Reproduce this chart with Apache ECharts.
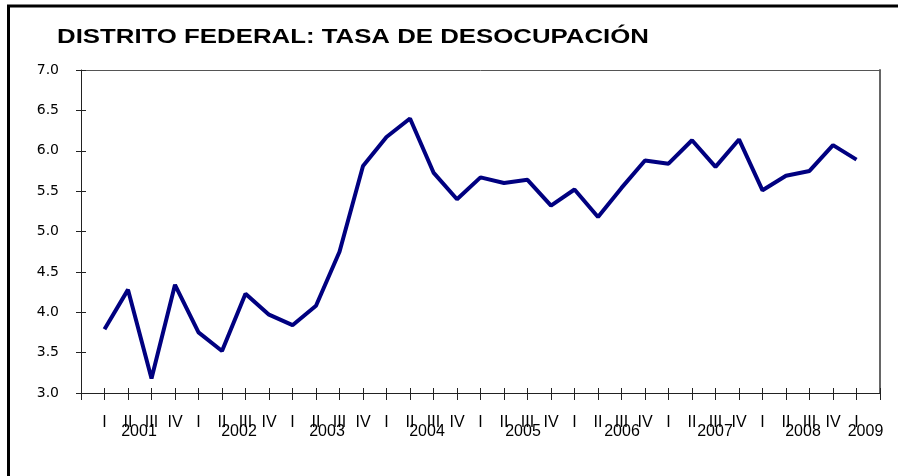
<!DOCTYPE html>
<html>
<head>
<meta charset="utf-8">
<script src="https://cdn.jsdelivr.net/npm/echarts@6/dist/echarts.min.js"></script>
<style>
html,body{margin:0;padding:0;background:#fff;}
#c{width:898px;height:476px;}
</style>
</head>
<body>
<div id="c"></div>
<script>
var title = 'DISTRITO FEDERAL: TASA DE DESOCUPACIÓN';
var quarters = ['I','II','III','IV','I','II','III','IV','I','II','III','IV','I','II','III','IV',
                'I','II','III','IV','I','II','III','IV','I','II','III','IV','I','II','III','IV','I'];
var years = ['2001','2002','2003','2004','2005','2006','2007','2008','2009'];
var rate = [3.79, 4.28, 3.18, 4.34, 3.75, 3.52, 4.23, 3.97, 3.84, 4.08, 4.75, 5.81, 6.17, 6.40,
            5.73, 5.40, 5.67, 5.60, 5.64, 5.32, 5.52, 5.18, 5.54, 5.88, 5.84, 6.13, 5.80, 6.14,
            5.51, 5.69, 5.75, 6.07, 5.89];
var yTicks = {min: 3, max: 7, step: 0.5};

// padded category axis (one empty slot on each side)
var cats = [''].concat(quarters).concat(['']);
var data = [null].concat(rate).concat([null]);
// year labels: placed on the 'II' slot of each year; last year on its only quarter
var yearCats = cats.map(function(){ return ''; });
var yi = 0;
for (var i = 0; i < quarters.length; i++) {
  if (quarters[i] === 'I') {
    var pos = (i + 1 < quarters.length) ? i + 1 : i;
    yearCats[pos + 1] = years[yi++];
  }
}
var yearShift = [11, 17, 11, 17, 19, 24, 23, 17, 9];
var rich = {};
years.forEach(function(y, k){
  rich['y' + k] = {fontSize: 16, fontFamily: 'Liberation Sans', color: '#000', padding: [0, 0, 0, 2 * yearShift[k]]};
});

var chart = echarts.init(document.getElementById('c'), null, {renderer: 'canvas'});
var axisBase = {
  type: 'category', data: cats, boundaryGap: false,
  axisLabel: {show: false}, splitLine: {show: false}
};
var yBase = {
  type: 'value', min: yTicks.min, max: yTicks.max, interval: yTicks.step,
  splitLine: {show: false}, axisLabel: {show: false}
};
chart.setOption({
  animation: false,
  backgroundColor: '#fff',
  grid: {left: 81, top: 70, width: 799, height: 323, containLabel: false},
  graphic: [
    {type: 'rect', shape: {x: 8.5, y: 6, width: 1000, height: 1000},
     style: {fill: 'none', stroke: '#000', lineWidth: 3}, silent: true},
    {type: 'text', x: 57, y: 37.5, scaleX: 1.29,
     style: {text: title, font: 'bold 20px "Liberation Sans"', fill: '#000',
             verticalAlign: 'middle', textVerticalAlign: 'middle'}}
  ],
  xAxis: [
    Object.assign({}, axisBase, {
      position: 'bottom',
      axisLine: {show: true, lineStyle: {color: '#222', width: 1}},
      axisTick: {show: true, interval: 0, length: 7, inside: false, lineStyle: {color: '#222'}},
      axisLabel: {show: true, interval: 0, margin: 22, fontSize: 16, fontFamily: 'Liberation Sans', color: '#000'}
    }),
    Object.assign({}, axisBase, {
      position: 'bottom',
      axisLine: {show: false},
      axisTick: {show: true, interval: 0, length: 5, inside: true, lineStyle: {color: '#222'}}
    }),
    Object.assign({}, axisBase, {
      position: 'bottom', data: yearCats,
      axisLine: {show: false}, axisTick: {show: false},
      axisLabel: {show: true, interval: 0, margin: 31, fontSize: 16, fontFamily: 'Liberation Sans', color: '#000',
        formatter: function(v){ if (!v) return ''; return '{y' + years.indexOf(v) + '|' + v + '}'; },
        rich: rich}
    }),
    Object.assign({}, axisBase, {
      position: 'top',
      axisLine: {show: true, lineStyle: {color: '#555', width: 1}},
      axisTick: {show: false}
    })
  ],
  yAxis: [
    Object.assign({}, yBase, {
      position: 'left',
      axisLine: {show: true, lineStyle: {color: '#222', width: 1}},
      axisTick: {show: true, length: 5, inside: false, lineStyle: {color: '#222'}},
      axisLabel: {show: true, margin: 22, fontSize: 14, fontFamily: 'DejaVu Sans', color: '#000',
        formatter: function(v){ return v.toFixed(1); }}
    }),
    Object.assign({}, yBase, {
      position: 'left',
      axisLine: {show: false},
      axisTick: {show: true, length: 5, inside: true, lineStyle: {color: '#222'}}
    }),
    Object.assign({}, yBase, {
      position: 'right',
      axisLine: {show: true, lineStyle: {color: '#666', width: 2}},
      axisTick: {show: false}
    })
  ],
  series: [{
    type: 'line', data: data, xAxisIndex: 0, yAxisIndex: 0,
    symbol: 'none', smooth: false, connectNulls: false,
    lineStyle: {color: '#000080', width: 4}
  }]
});
</script>
</body>
</html>
